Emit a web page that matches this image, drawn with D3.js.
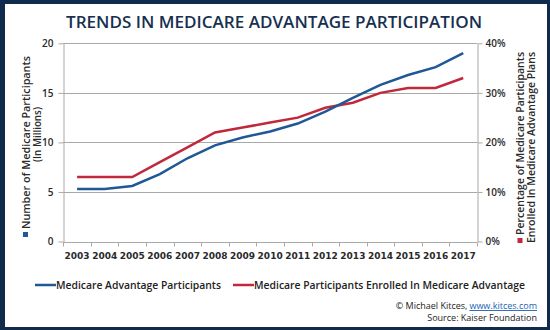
<!DOCTYPE html>
<html>
<head>
<meta charset="utf-8">
<script src="https://cdn.jsdelivr.net/npm/d3@7"></script>
<style>
  body { margin: 0; background: #fff; }
  svg { display: block; }
  text { font-family: 'Open Sans', sans-serif; fill: #222; }
</style>
</head>
<body>
<svg id="container" width="550" height="330"></svg>
<script>
const years = ['2003', '2004', '2005', '2006', '2007', '2008', '2009', '2010',
  '2011', '2012', '2013', '2014', '2015', '2016', '2017']
// millions of Medicare Advantage participants (left axis)
const participants = [5.3, 5.3, 5.6, 6.8, 8.4, 9.7, 10.5, 11.1, 11.9, 13.1,
  14.5, 15.8, 16.8, 17.6, 19.0]
// share of Medicare participants enrolled in MA plans, % (right axis)
const enrolledPct = [13, 13, 13, 16, 19, 22, 23, 24, 25, 27, 28, 30, 31, 31, 33]
const leftTicks = [0, 5, 10, 15, 20]
const rightTicks = [0, 10, 20, 30, 40]

const navy = '#112b4c'
const blue = '#1f5895'
const red = '#c0283c'
const grid = '#a8a8a8'

const svg = d3.select('#container')

// frame
svg.append('rect').attr('width', 550).attr('height', 330).attr('fill', navy)
svg
  .append('rect')
  .attr('x', 5)
  .attr('y', 4)
  .attr('width', 542)
  .attr('height', 323)
  .attr('fill', '#fff')

svg
  .append('text')
  .attr('x', 274)
  .attr('y', 28)
  .attr('text-anchor', 'middle')
  .attr('textLength', 416)
  .attr('lengthAdjust', 'spacingAndGlyphs')
  .style('font-size', '17px')
  .style('font-weight', 600)
  .style('fill', '#17304f')
  .text('TRENDS IN MEDICARE ADVANTAGE PARTICIPATION')

const x = d3.scaleBand().domain(years).range([63.3, 477]).padding(0)
const yL = d3.scaleLinear().domain([0, 20]).range([241.5, 43.3])
const yR = d3.scaleLinear().domain([0, 40]).range([241.5, 43.3])

// horizontal gridlines
svg
  .append('g')
  .selectAll('line')
  .data(leftTicks.slice(1))
  .enter()
  .append('line')
  .attr('x1', 63.3)
  .attr('x2', 477)
  .attr('y1', (d) => Math.round(yL(d)) + 0.5)
  .attr('y2', (d) => Math.round(yL(d)) + 0.5)
  .attr('stroke', grid)

const styleAxis = (g) => {
  g.select('.domain').attr('stroke', grid)
  g.selectAll('.tick line').attr('stroke', grid)
  g.selectAll('text')
    .style('font-family', "'Open Sans', sans-serif")
    .style('font-size', '10px')
    .style('font-weight', 600)
    .style('fill', '#2a2a2a')
}

svg
  .append('g')
  .attr('transform', 'translate(63.5,0)')
  .call(
    d3.axisLeft(yL).tickValues(leftTicks).tickSize(5).tickSizeOuter(0).tickPadding(5)
  )
  .call(styleAxis)

svg
  .append('g')
  .attr('transform', 'translate(477.5,0)')
  .call(
    d3
      .axisRight(yR)
      .tickValues(rightTicks)
      .tickSize(5)
      .tickSizeOuter(0)
      .tickPadding(3)
      .tickFormat((d) => d + '%')
  )
  .call(styleAxis)

// x axis with ticks on the band edges
const xAxis = svg
  .append('g')
  .attr('transform', `translate(0,${Math.round(yL(0)) + 0.5})`)
xAxis
  .append('line')
  .attr('x1', 63.3)
  .attr('x2', 477)
  .attr('stroke', grid)
xAxis
  .selectAll('line.edge')
  .data(years.concat(['end']))
  .enter()
  .append('line')
  .attr('class', 'edge')
  .attr('x1', (d, i) => Math.round(63.3 + i * x.bandwidth()) + 0.5)
  .attr('x2', (d, i) => Math.round(63.3 + i * x.bandwidth()) + 0.5)
  .attr('y2', 4)
  .attr('stroke', grid)
xAxis
  .selectAll('text')
  .data(years)
  .enter()
  .append('text')
  .attr('x', (d) => x(d) + x.bandwidth() / 2)
  .attr('y', 16)
  .attr('text-anchor', 'middle')
  .style('font-family', "'DejaVu Sans', sans-serif")
  .style('font-size', '9px')
  .style('font-weight', 'bold')
  .style('fill', '#2a2a2a')
  .text((d) => d)

// series
const cx = (i) => x(years[i]) + x.bandwidth() / 2
const lineL = d3.line().x((d, i) => cx(i)).y((d) => yL(d))
const lineR = d3.line().x((d, i) => cx(i)).y((d) => yR(d))

svg
  .append('path')
  .datum(enrolledPct)
  .attr('d', lineR)
  .attr('fill', 'none')
  .attr('stroke', red)
  .attr('stroke-width', 2.5)

svg
  .append('path')
  .datum(participants)
  .attr('d', lineL)
  .attr('fill', 'none')
  .attr('stroke', blue)
  .attr('stroke-width', 2.5)

// axis titles, rotated, with colour keys
const axisTitle = (px, py, lines, color) => {
  const g = svg
    .append('g')
    .attr('transform', `translate(${px},${py}) rotate(-90)`)
  g.append('rect')
    .attr('x', 0)
    .attr('y', -6.5)
    .attr('width', 5)
    .attr('height', 5)
    .attr('fill', color)
  lines.forEach((l, i) => {
    g.append('text')
      .attr('x', l.x)
      .attr('y', i * 11)
      .style('font-size', '10px')
      .style('font-weight', 600)
      .style('fill', '#2a2a2a')
      .attr('textLength', l.len)
      .attr('lengthAdjust', 'spacingAndGlyphs')
      .text(l.t)
  })
}

axisTitle(
  29.5,
  237,
  [
    { t: 'Number of Medicare Participants', x: 8, len: 173 },
    { t: '(In Millions)', x: 75, len: 55 }
  ],
  blue
)
axisTitle(
  524,
  243,
  [
    { t: 'Percentage of Medicare Participants', x: 8, len: 183 },
    { t: 'Enrolled In Medicare  Advantage Plans', x: 0, len: 191 }
  ],
  red
)

// legend
const legendItems = [
  { label: 'Medicare Advantage Participants', color: blue, x: 35, len: 165 },
  { label: 'Medicare Participants Enrolled In Medicare Advantage', color: red, x: 233, len: 271 }
]
const legend = svg
  .append('g')
  .selectAll('g')
  .data(legendItems)
  .enter()
  .append('g')
  .attr('transform', (d) => `translate(${d.x},285)`)
legend
  .append('line')
  .attr('x1', 0)
  .attr('x2', 21)
  .attr('stroke', (d) => d.color)
  .attr('stroke-width', 2.5)
legend
  .append('text')
  .attr('x', 21)
  .attr('y', 4)
  .attr('textLength', (d) => d.len)
  .attr('lengthAdjust', 'spacingAndGlyphs')
  .style('font-size', '10.5px')
  .style('font-weight', 600)
  .style('fill', '#222')
  .text((d) => d.label)

// credits
const link = svg
  .append('text')
  .attr('x', 537)
  .attr('y', 309)
  .attr('text-anchor', 'end')
  .style('font-size', '9px')
  .style('fill', '#1a5fb4')
  .style('text-decoration', 'underline')
  .text('www.kitces.com')

svg
  .append('text')
  .attr('x', 537 - link.node().getComputedTextLength() - 2)
  .attr('y', 309)
  .attr('text-anchor', 'end')
  .style('font-size', '9px')
  .style('fill', '#222')
  .text('© Michael Kitces,')

svg
  .append('text')
  .attr('x', 537)
  .attr('y', 321)
  .attr('text-anchor', 'end')
  .style('font-size', '9px')
  .style('fill', '#222')
  .text('Source: Kaiser Foundation')
</script>
</body>
</html>
